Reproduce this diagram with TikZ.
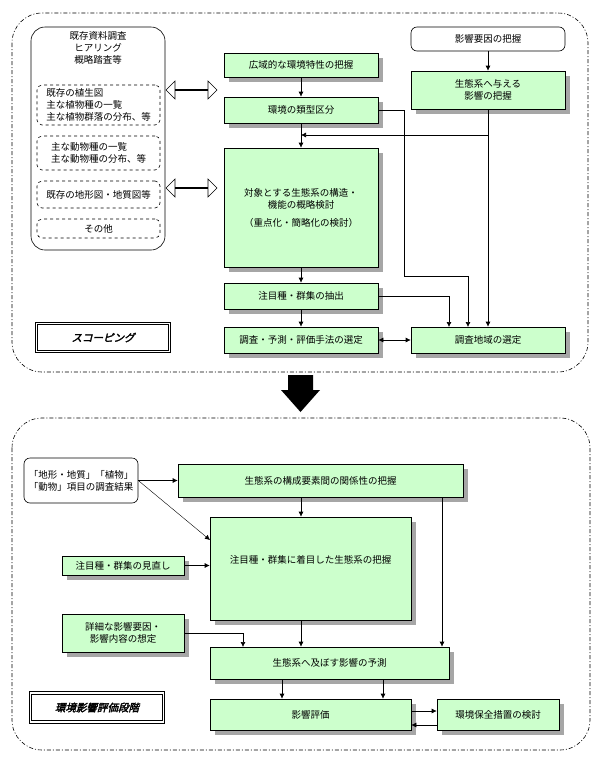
\documentclass[tikz,border=0pt]{standalone}
\usepackage{fontspec}
\setmainfont{Noto Sans CJK JP}
\newfontfamily\titlefont[FakeSlant=0.25,FakeBold=2.5]{Noto Sans CJK JP}
\usetikzlibrary{shadows,shapes.arrows,calc,arrows.meta}
\tikzset{
  box/.style={draw, fill=green!20, inner sep=1pt, align=center,
    drop shadow={shadow xshift=5pt, shadow yshift=-5pt, fill=gray!70, opacity=1}},
  wbox/.style={draw, fill=white, rounded corners=6pt, align=center, inner sep=1pt},
  dbox/.style={draw, dashed, rounded corners=5pt, inner sep=1pt},
  stage/.style={draw, line width=1.2pt, double, double distance=1.5pt, fill=white,
    font=\titlefont\fontsize{10.5}{12}\selectfont},
  frame/.style={draw, dash pattern=on 4pt off 2pt on 1pt off 2pt, rounded corners=30pt},
  hollow/.style={double arrow, draw, fill=white, double arrow head extend=5pt,
    minimum width=18pt, minimum height=51pt, inner sep=0pt},
  arr/.style={-{Latex[length=5pt,width=5pt]}},
  both/.style={{Latex[length=5pt,width=5pt]}-{Latex[length=5pt,width=5pt]}}
}
\begin{document}
\begin{tikzpicture}[x=1pt, y=-1pt, line width=0.6pt, font=\fontsize{9.5}{12}\selectfont]
\useasboundingbox (0,0) rectangle (600,758);
% scoping
\draw[frame] (12,13) rectangle (588,372);
\node[wbox, rounded corners=14pt, minimum width=134, minimum height=223] (src) at (98,138.5) {};
\node[anchor=north, align=center] (srct) at (98,28) {既存資料調査\\ヒアリング\\概略踏査等};
\node[dbox, minimum width=123, minimum height=40, align=left] (d1) at (98.5,105) {既存の植生図\\主な植物種の一覧\\主な植物群落の分布、等};
\node[dbox, minimum width=123, minimum height=34, align=left] (d2) at (98.5,153) {主な動物種の一覧\\主な動物種の分布、等};
\node[dbox, minimum width=123, minimum height=27] (d3) at (98.5,194.5) {既存の地形図・地質図等};
\node[dbox, minimum width=123, minimum height=19] (d4) at (98.5,228.5) {その他};
\node[hollow] (h1) at (191.5,90) {};
\node[hollow] (h2) at (191.5,188) {};
\node[box, minimum width=154, minimum height=24] (B1) at (301,65) {広域的な環境特性の把握};
\node[box, minimum width=154, minimum height=26] (B2) at (301,110) {環境の類型区分};
\node[box, minimum width=154, minimum height=119] (B3) at (301,207.5) {対象とする生態系の構造・\\機能の概略検討\\[6pt]（重点化・簡略化の検討）};
\node[box, minimum width=154, minimum height=26] (B4) at (301,296) {注目種・群集の抽出};
\node[box, minimum width=154, minimum height=26] (B5) at (301,340) {調査・予測・評価手法の選定};
\node[wbox, minimum width=154, minimum height=24] (R0) at (488,39) {影響要因の把握};
\node[box, minimum width=154, minimum height=38] (R1) at (488,90) {生態系へ与える\\影響の把握};
\node[box, minimum width=154, minimum height=26] (R2) at (488,340) {調査地域の選定};
\node[stage, minimum width=133, minimum height=28] (scope) at (103,337.5) {スコーピング};
\coordinate (j1) at (301,135);
\coordinate (k1) at (404,276);
\coordinate (k2) at (468,327);
\coordinate (k3) at (449,327);
\draw[arr] (R0) -- (R1);
\draw[arr] (B1) -- (B2);
\draw[arr] (B2) -- (B3);
\draw[arr] (R1) -- (R2);
\draw[arr] (R1.south |- j1) -- (j1);
\draw[arr] (B2.east) -| (k1) -| (k2);
\draw[arr] (B4.east) -| (k3);
\draw[arr] (B3) -- (B4);
\draw[arr] (B4) -- (B5);
\draw[both] (B5) -- (R2);
% stage arrow
\fill (288,375) -- (313,375) -- (313,390) -- (320,390) -- (300.5,412) -- (281,390) -- (288,390) -- cycle;
% assessment
\draw[frame] (12,418) rectangle (590,750);
\node[wbox, minimum width=114, minimum height=45] (S0) at (81,480.5) {「地形・地質」「植物」\\「動物」項目の調査結果};
\node[box, minimum width=285, minimum height=33] (C1) at (320.5,480.5) {生態系の構成要素間の関係性の把握};
\node[box, minimum width=201, minimum height=103] (C2) at (310.5,568.5) {};
\node (C2t) at (310.5,560) {注目種・群集に着目した生態系の把握};
\node[box, minimum width=122, minimum height=19] (L1) at (123,565.5) {注目種・群集の見直し};
\node[box, minimum width=122, minimum height=38] (L2) at (123,633) {詳細な影響要因・\\影響内容の想定};
\node[box, minimum width=239, minimum height=32] (C3) at (329.5,663) {生態系へ及ぼす影響の予測};
\node[box, minimum width=201, minimum height=31] (C4) at (310.5,714.5) {影響評価};
\node[box, minimum width=122, minimum height=31] (C5) at (498,714.5) {環境保全措置の検討};
\node[stage, minimum width=133, minimum height=29] (assess) at (97,707.5) {環境影響評価段階};
\coordinate (m1) at (210,540);
\coordinate (m2) at (243,647);
\coordinate (n1) at (301,0);
\coordinate (n2) at (442,0);
\coordinate (n3) at (282,0);
\coordinate (n4) at (383,0);
\coordinate (n5) at (0,711);
\coordinate (n6) at (0,725);
\draw[arr] (S0.east) -- (C1.west);
\draw[arr, thin] (S0.east) -- (m1);
\draw[arr] (L1.east) -- (L1.east -| C2.west);
\draw[arr] (L2.east) -| (m2);
\draw[arr] (C1.south -| n1) -- (C2.north -| n1);
\draw[arr] (C1.south -| n2) -- (C3.north -| n2);
\draw[arr] (C2.south -| n1) -- (C3.north -| n1);
\draw[arr] (C3.south -| n3) -- (C4.north -| n3);
\draw[arr] (C3.south -| n4) -- (C4.north -| n4);
\draw[arr] (C4.east |- n5) -- (C5.west |- n5);
\draw[arr] (C5.west |- n6) -- (C4.east |- n6);
\end{tikzpicture}
\end{document}
